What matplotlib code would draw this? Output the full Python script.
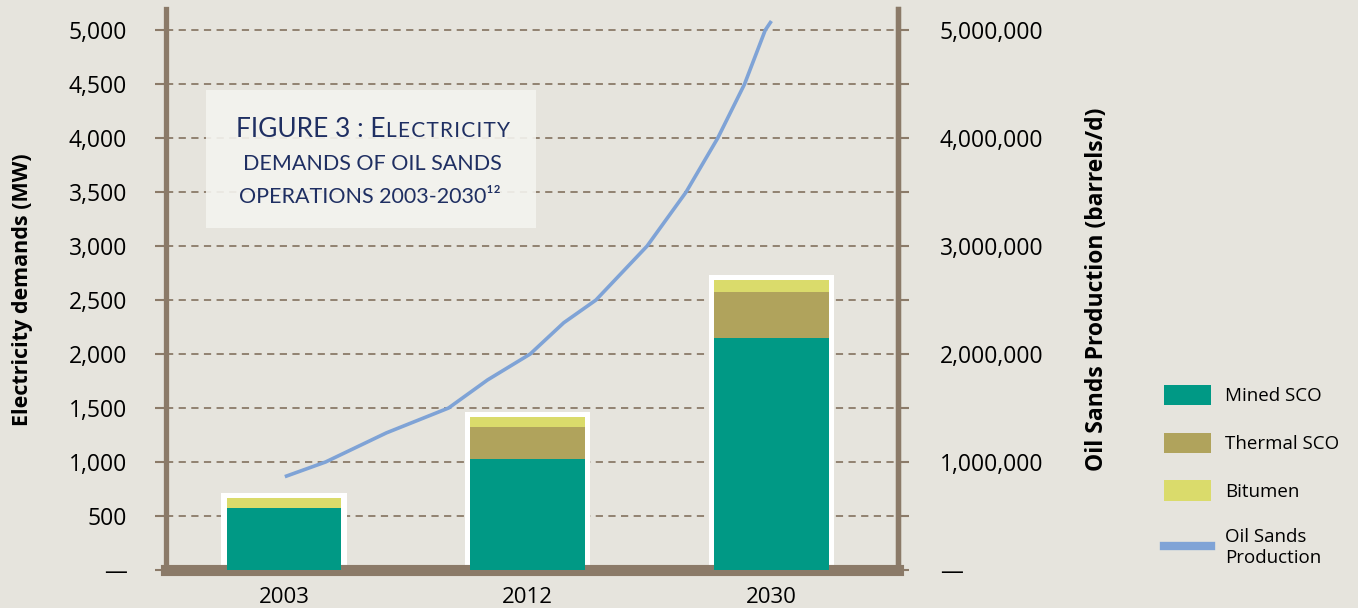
import matplotlib.pyplot as plt
from matplotlib.patches import Patch
from matplotlib.lines import Line2D
from matplotlib.ticker import FuncFormatter

# Data
years = ['2003', '2012', '2030']
mined_sco = [570, 1030, 2150]
thermal_sco = [0, 290, 420]
bitumen = [100, 100, 120]

# oil sands production line, positions in category units (0 = 2003, 1 = 2012, 2 = 2030)
prod_pos = [0.01, 0.17, 0.42, 0.675, 0.835, 1.01, 1.148, 1.28, 1.49, 1.65, 1.78, 1.89,
            1.975, 1.996]
prod_barrels = [870000, 1000000, 1270000, 1500000, 1760000, 2000000, 2290000, 2500000,
                3000000, 3500000, 4000000, 4500000, 5000000, 5070000]

BG = '#E6E4DD'
BROWN = '#8B7A68'
TEAL = '#009985'
THERMAL = '#B0A35C'
BITUMEN = '#DADB6B'
LINE = '#7FA3D6'
NAVY = '#1F2F62'

plt.rcParams['font.family'] = ['Open Sans', 'DejaVu Sans']

fig = plt.figure(figsize=(13.58, 6.08), dpi=100, facecolor=BG)
ax = fig.add_axes([0.1222, 0.0625, 0.5391, 0.9225])
ax.set_facecolor(BG)

x = list(range(len(years)))
bar_w = 0.47
totals = [m + t + b for m, t, b in zip(mined_sco, thermal_sco, bitumen)]

# white frame behind each stacked bar
ax.bar(x, [t + 45 for t in totals], width=0.515, color='white', zorder=2)
ax.bar(x, mined_sco, width=bar_w, color=TEAL, zorder=3)
ax.bar(x, thermal_sco, width=bar_w, bottom=mined_sco, color=THERMAL, zorder=3)
ax.bar(x, bitumen, width=bar_w, bottom=[m + t for m, t in zip(mined_sco, thermal_sco)],
       color=BITUMEN, zorder=3)

ax.set_xlim(-0.485, 2.52)
ax.set_ylim(0, 5194)
ax.set_xticks(x)
ax.set_xticklabels(years, fontsize=16)
ax.tick_params(axis='x', length=0, pad=12)

ax.set_yticks(range(0, 5001, 500))
ax.yaxis.set_major_formatter(FuncFormatter(lambda v, p: '—' if v == 0 else f'{int(v):,}'))
ax.tick_params(axis='y', length=8, width=1.5, color=BROWN, labelsize=16.5, pad=20)
ax.grid(axis='y', color=BROWN, linestyle=(0, (4, 3)), linewidth=1.3, zorder=1)
ax.set_axisbelow(True)

ax.spines['top'].set_visible(False)
for s in ['left', 'right']:
    ax.spines[s].set_color(BROWN)
    ax.spines[s].set_linewidth(3.8)
ax.spines['bottom'].set_color(BROWN)
ax.spines['bottom'].set_linewidth(8)

ax.set_ylabel('Electricity demands (MW)', fontsize=15.5, fontweight='bold')
ax.yaxis.set_label_coords(-0.182, 0.5)

# right axis for oil sands production
ax2 = ax.twinx()
ax2.plot(prod_pos, prod_barrels, color=LINE, linewidth=2.6, zorder=5,
         solid_joinstyle='round')
ax2.set_ylim(0, 5194000)
ax2.set_yticks(range(0, 5000001, 500000))
ax2.yaxis.set_major_formatter(FuncFormatter(
    lambda v, p: '—' if v == 0 else (f'{int(v):,}' if v % 1000000 == 0 else '')))
ax2.tick_params(axis='y', length=8, width=1.5, color=BROWN, labelsize=16.5, pad=22)
for s in ['top', 'left', 'bottom']:
    ax2.spines[s].set_visible(False)
ax2.spines['right'].set_color(BROWN)
ax2.spines['right'].set_linewidth(3.8)
ax2.set_ylabel('Oil Sands Production (barrels/d)', fontsize=16.5, fontweight='bold')
ax2.yaxis.set_label_coords(1.2555, 0.5)

# title box
fig.patches.append(plt.Rectangle((206 / 1358, 1 - 228 / 608), 330 / 1358, 138 / 608,
                                 transform=fig.transFigure, facecolor='#F4F4EF',
                                 alpha=0.9, edgecolor='none', zorder=10))
tfam = ['Lato', 'DejaVu Sans']
t1 = fig.text(236 / 1358, 1 - 137 / 608, 'FIGURE 3 : E', fontsize=19, color=NAVY,
              family=tfam, va='baseline', zorder=11)
fig.canvas.draw()
bb = t1.get_window_extent()
fig.text(bb.x1 / 1358, 1 - 137 / 608, 'L E C T R I C I T Y'.replace(' ', '\u200a'),
         fontsize=15, color=NAVY, family=tfam, va='baseline', zorder=11)
fig.text(372 / 1358, 1 - 170 / 608, 'DEMANDS OF OIL SANDS', fontsize=15.5, color=NAVY,
         family=tfam, va='baseline', ha='center', zorder=11)
fig.text(370 / 1358, 1 - 203 / 608, 'OPERATIONS 2003-2030¹²', fontsize=15.5, color=NAVY,
         family=tfam, va='baseline', ha='center', zorder=11)

# legend
handles = [Patch(facecolor=TEAL), Patch(facecolor=THERMAL), Patch(facecolor=BITUMEN),
           Line2D([0], [0], color=LINE, linewidth=6)]
labels = ['Mined SCO', 'Thermal SCO', 'Bitumen', 'Oil Sands\nProduction']
fig.legend(handles, labels, loc='upper left', bbox_to_anchor=(1147 / 1358, 1 - 368 / 608),
           frameon=False, fontsize=13.5, handlelength=2.5, handleheight=1.3,
           labelspacing=1.45, handletextpad=0.75)

fig.savefig('out.png', dpi=100, facecolor=BG)
